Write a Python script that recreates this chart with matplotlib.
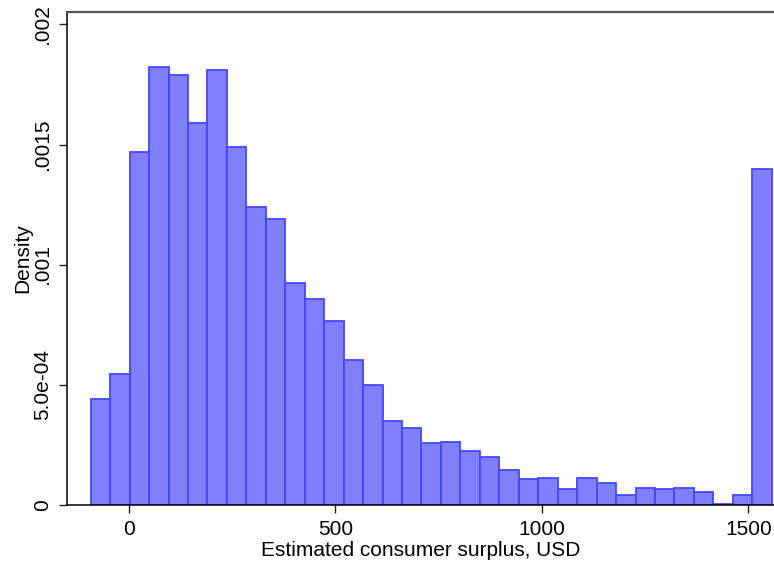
import matplotlib
matplotlib.use("Agg")
import matplotlib.pyplot as plt
import numpy as np

plt.rcParams['font.family'] = ['Liberation Sans', 'DejaVu Sans']

# histogram of estimated consumer surplus (density scale)
bin_start = -92.8
bin_width = 47.13
density = [0.000442, 0.000547, 0.001468, 0.001821, 0.001789, 0.001592, 0.001811,
           0.001490, 0.001239, 0.001189, 0.000926, 0.000857, 0.000764, 0.000604,
           0.000501, 0.000351, 0.000322, 0.000257, 0.000264, 0.000224, 0.000201,
           0.000147, 0.000110, 0.000114, 0.000068, 0.000114, 0.000093, 0.000042,
           0.000072, 0.000068, 0.000072, 0.000056, 0.000006, 0.000043, 0.001399]

xticks = [0, 500, 1000, 1500]
yticks = [0, 0.0005, 0.001, 0.0015, 0.002]
ytick_labels = ["0", "5.0e-04", ".001", ".0015", ".002"]

lefts = bin_start + bin_width * np.arange(len(density))

fig = plt.figure(figsize=(7.74, 5.65), dpi=100)
ax = fig.add_axes([67/774, 60/565, 707/774, 493/565])

ax.bar(lefts, density, width=bin_width, align='edge',
       facecolor='#8080ff', edgecolor='#4646ff', linewidth=1.3, zorder=2)

ax.set_xlim(-150.2, 1562.2)
ax.set_ylim(0, 0.002052)

ax.set_xticks(xticks)
ax.set_xticklabels([str(t) for t in xticks])
ax.set_yticks(yticks)
ax.set_yticklabels(ytick_labels, rotation=90, va='center')

ax.tick_params(axis='both', direction='out', length=6, width=1.0,
               labelsize=15, pad=5, color='#222222')

ax.spines['right'].set_visible(False)
ax.spines['top'].set_color('#555555')
ax.spines['top'].set_linewidth(1.6)
ax.spines['left'].set_linewidth(1.1)
ax.spines['bottom'].set_linewidth(1.1)

ax.set_xlabel("Estimated consumer surplus, USD", fontsize=15, labelpad=1)
ax.set_ylabel("Density", fontsize=15, labelpad=0)

fig.savefig("out.png", dpi=100)
